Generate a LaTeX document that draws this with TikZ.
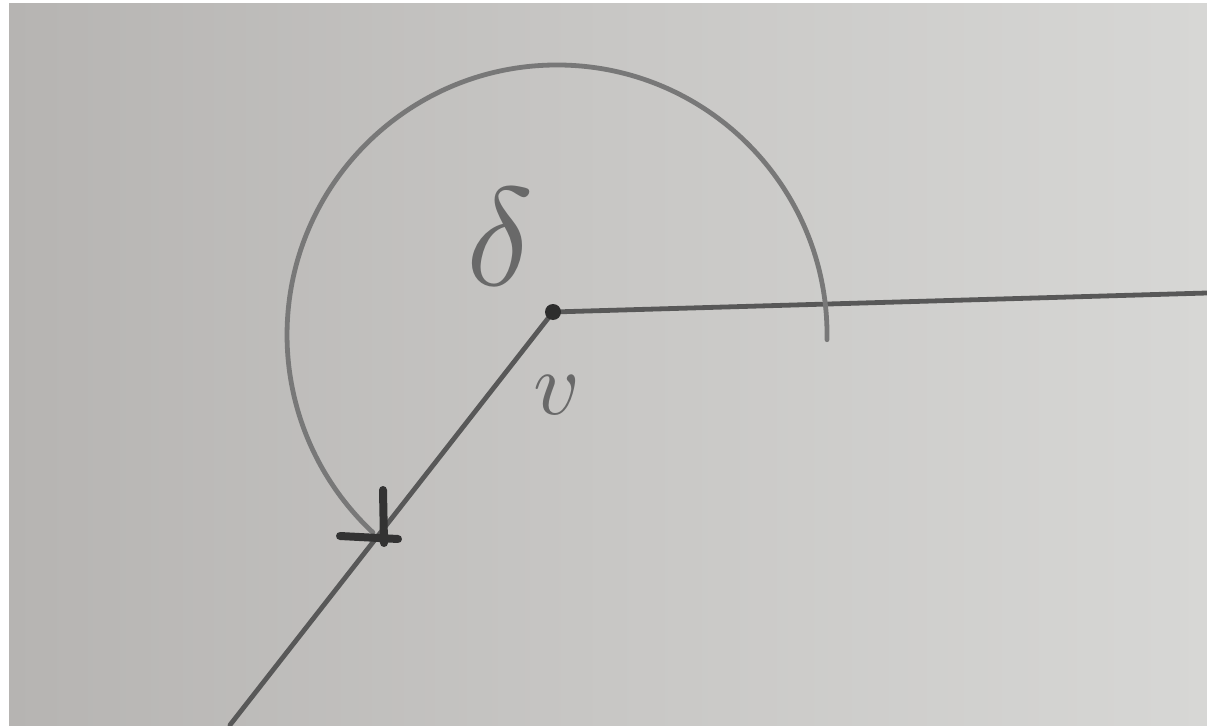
\documentclass[tikz,border=0pt]{standalone}
\usepackage{graphicx}
\definecolor{paperL}{RGB}{182,180,178}
\definecolor{paperM}{RGB}{200,199,197}
\definecolor{paperR}{RGB}{215,215,213}
\definecolor{pencil}{RGB}{88,88,88}
\definecolor{pencilarc}{RGB}{120,120,120}
\definecolor{pencildark}{RGB}{45,45,45}
\definecolor{pencilink}{RGB}{105,105,105}
\tikzset{
  ray/.style={draw=pencil, line width=2.4pt, line cap=round},
  arcline/.style={draw=pencilarc, line width=2.4pt, line cap=round},
  tipstroke/.style={draw=pencildark!85!pencil, line width=4pt, line cap=round},
  handlabel/.style={text=pencilink, inner sep=0pt},
}
\begin{document}
\begin{tikzpicture}[x=0.5pt,y=0.5pt]
  \useasboundingbox (0,0) rectangle (1207,725);
  \fill[white] (0,0) rectangle (1207,725);
  \shade[left color=paperL, right color=paperR, middle color=paperM] (9,0) rectangle (1207,721);
  % points
  \coordinate (V) at (553,413);
  \coordinate (R) at (1207,432);
  \coordinate (B) at (230,0);
  \coordinate (A) at (827,385.3);
  \coordinate (Tu) at (383,235);
  \coordinate (Td) at (384,182);
  \coordinate (Tl) at (340,189);
  \coordinate (Tr) at (398,186);
  % rays
  \draw[ray] (V) -- (R);
  \draw[ray] (V) -- (B);
  % angle arc
  \draw[arcline] (A) arc[start angle=-1, end angle=227, radius=270];
  % arrow head
  \draw[tipstroke] (Tu) -- (Td);
  \draw[tipstroke] (Tl) -- (Tr);
  % vertex dot
  \fill[pencildark] (V) circle[radius=8];
  % labels
  \node[handlabel] (delta) at (500,488) {\scalebox{7}{$\delta$}};
  \node[handlabel] (vlab) at (557,330) {\scalebox{4.5}{$v$}};
\end{tikzpicture}
\end{document}
